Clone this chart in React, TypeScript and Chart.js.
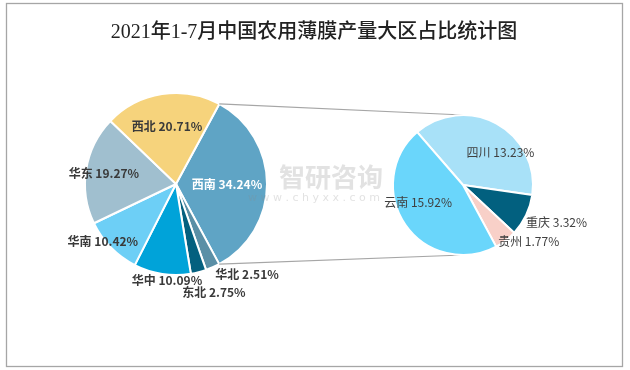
import React, { useEffect, useRef } from "react";
import { Chart, registerables } from "chart.js";

Chart.register(...registerables);

const chartTitle = "2021年1-7月中国农用薄膜产量大区占比统计图";

const regionLabels = ["西南", "华北", "东北", "华中", "华南", "华东", "西北"];
const regionValues = [34.24, 2.51, 2.75, 10.09, 10.42, 19.27, 20.71];
const regionColors = ["#5fa4c5", "#5a8fa6", "#04607f", "#00a3d9", "#6dcff6", "#a0bfcf", "#f6d37c"];

const provinceLabels = ["四川", "重庆", "贵州", "云南"];
const provinceValues = [13.23, 3.32, 1.77, 15.92];
const provinceColors = ["#a8e1f8", "#02607f", "#f8d0c8", "#6ad6fb"];

// label placement: [radius factor, angle shift in degrees]
const regionLabelPlace = [[0.56, 0], [1.26, -14.5], [1.26, -5], [1.06, -3.4], [1.02, 6.3], [0.8, -1.2], [0.645, 0.1]];
const provinceLabelPlace = [[0.71, 20.3], [1.44, -3.8], [1.24, -11.6], [0.69, 13]];

const W = 630;
const H = 370;

function makeLabelPlugin(labels: string[], values: number[], place: number[][], colorFn: (i: number) => string, font: string) {
  return {
    id: "sliceLabels",
    afterDatasetsDraw(chart: any) {
      const ctx = chart.ctx;
      const meta = chart.getDatasetMeta(0);
      ctx.save();
      ctx.font = font;
      ctx.textAlign = "center";
      ctx.textBaseline = "middle";
      meta.data.forEach((arc: any, i: number) => {
        const [f, d] = place[i];
        const mid = (arc.startAngle + arc.endAngle) / 2 + (d * Math.PI) / 180;
        const x = arc.x + Math.cos(mid) * arc.outerRadius * f;
        const y = arc.y + Math.sin(mid) * arc.outerRadius * f;
        ctx.fillStyle = colorFn(i);
        ctx.fillText(`${labels[i]} ${values[i].toFixed(2)}%`, x, y);
      });
      ctx.restore();
    },
  };
}

export default function App() {
  const leftRef = useRef<HTMLCanvasElement>(null);
  const rightRef = useRef<HTMLCanvasElement>(null);

  useEffect(() => {
    const frame = {
      id: "frame",
      beforeDraw(chart: any) {
        const ctx = chart.ctx;
        ctx.save();
        ctx.fillStyle = "#ffffff";
        ctx.fillRect(0, 0, W, H);
        ctx.strokeStyle = "#a6a6a6";
        ctx.lineWidth = 1.3;
        ctx.strokeRect(6.5, 3.5, 616, 363);
        ctx.fillStyle = "#222222";
        ctx.font = '500 20px "Liberation Serif", "Noto Sans CJK SC", serif';
        ctx.textAlign = "center";
        ctx.textBaseline = "middle";
        ctx.fillText(chartTitle, 314, 33);
        ctx.restore();
      },
    };

    const left = new Chart(leftRef.current!, {
      type: "pie",
      data: {
        labels: regionLabels,
        datasets: [{ data: regionValues, backgroundColor: regionColors, borderColor: "#ffffff", borderWidth: 2 }],
      },
      options: {
        responsive: false,
        animation: false,
        devicePixelRatio: 1,
        events: [],
        rotation: 28.4,
        layout: { padding: { left: 84, right: 362, top: 92, bottom: 94 } },
        plugins: { legend: { display: false }, tooltip: { enabled: false }, title: { display: false } },
      },
      plugins: [
        frame,
        makeLabelPlugin(regionLabels, regionValues, regionLabelPlace, (i) => (i === 0 ? "#ffffff" : "#3a3a3a"), 'bold 12px "Noto Sans CJK SC", "Noto Sans", sans-serif'),
      ],
    } as any);

    const connectors = {
      id: "connectors",
      beforeDatasetsDraw(chart: any) {
        const ctx = chart.ctx;
        const big = left.getDatasetMeta(0).data[0] as any;
        const small = chart.getDatasetMeta(0).data[0] as any;
        const r = big.outerRadius;
        const p1 = { x: big.x + Math.cos(big.startAngle) * r, y: big.y + Math.sin(big.startAngle) * r };
        const p2 = { x: big.x + Math.cos(big.endAngle) * r, y: big.y + Math.sin(big.endAngle) * r };
        ctx.save();
        ctx.strokeStyle = "#a6a6a6";
        ctx.lineWidth = 1.2;
        ctx.beginPath();
        ctx.moveTo(p1.x, p1.y);
        ctx.lineTo(small.x, small.y - small.outerRadius);
        ctx.moveTo(p2.x, p2.y);
        ctx.lineTo(small.x, small.y + small.outerRadius);
        ctx.stroke();
        ctx.restore();
      },
      afterDraw(chart: any) {
        const ctx = chart.ctx;
        ctx.save();
        ctx.fillStyle = "rgba(140,140,140,0.25)";
        ctx.font = 'bold 26px "Noto Sans CJK SC", sans-serif';
        ctx.textAlign = "center";
        ctx.textBaseline = "middle";
        ctx.fillText("智研咨询", 331, 177);
        ctx.font = '11px "DejaVu Sans", sans-serif';
        ctx.fillText("w w w . c h y x x . c o m", 314, 198);
        ctx.restore();
      },
    };

    const right = new Chart(rightRef.current!, {
      type: "pie",
      data: {
        labels: provinceLabels,
        datasets: [{ data: provinceValues, backgroundColor: provinceColors, borderColor: "#ffffff", borderWidth: 2 }],
      },
      options: {
        responsive: false,
        animation: false,
        devicePixelRatio: 1,
        events: [],
        rotation: -40.9,
        layout: { padding: { left: 392, right: 96, top: 114, bottom: 114 } },
        plugins: { legend: { display: false }, tooltip: { enabled: false }, title: { display: false } },
      },
      plugins: [
        connectors,
        makeLabelPlugin(provinceLabels, provinceValues, provinceLabelPlace, () => "#404040", '12px "Noto Sans CJK SC", "Noto Sans", sans-serif'),
      ],
    } as any);

    return () => {
      right.destroy();
      left.destroy();
    };
  }, []);

  return (
    <div style={{ position: "fixed", left: 0, top: 0, width: W, height: H, background: "#fff" }}>
      <canvas ref={leftRef} width={W} height={H} style={{ position: "absolute", left: 0, top: 0 }} />
      <canvas ref={rightRef} width={W} height={H} style={{ position: "absolute", left: 0, top: 0 }} />
    </div>
  );
}
